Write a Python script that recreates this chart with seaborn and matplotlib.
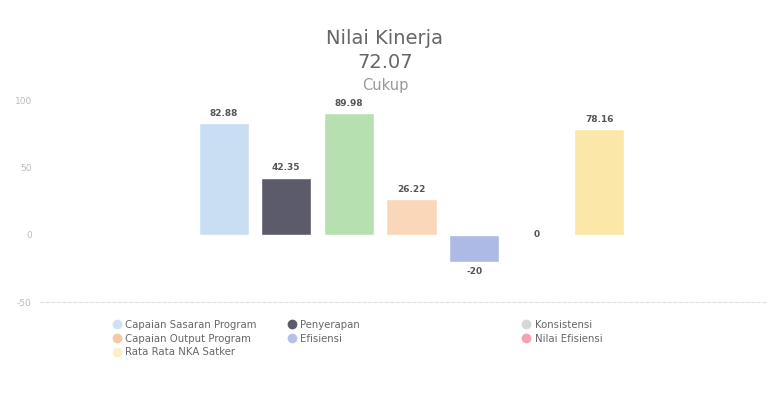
import matplotlib.pyplot as plt
import seaborn as sns
import pandas as pd
from matplotlib.lines import Line2D

# data
labels = ['Capaian Sasaran Program', 'Penyerapan', 'Konsistensi',
          'Capaian Output Program', 'Efisiensi', 'Nilai Efisiensi',
          'Rata Rata NKA Satker']
values = [82.88, 42.35, 89.98, 26.22, -20, 0, 78.16]
colors = ['#c9def3', '#5b5b6b', '#b7e0b0', '#fad7b8', '#aebae6', '#f3a9b6', '#fbe8a8']
legend_colors = ['#cfe0f2', '#5b5b6b', '#d6d6d6', '#f6c9a4', '#b8c0ea', '#f2a2b2', '#fcf0c8']
title = 'Nilai Kinerja'
score = '72.07'
grade = 'Cukup'

df = pd.DataFrame({'label': labels, 'value': values})

sns.set_style('white')
plt.rcParams['font.family'] = ['DejaVu Sans']

fig = plt.figure(figsize=(7.7, 4), dpi=100)
ax = fig.add_axes([0.052, 0.245, 0.942, 0.505])

sns.barplot(data=df, x='label', y='value', hue='label', palette=colors,
            legend=False, width=0.8, saturation=1, ax=ax)

ax.set_ylim(-50, 100)
ax.set_xlim(-2.93, 8.65)
ax.set_yticks([-50, 0, 50, 100])
ax.set_yticklabels(['-50', '0', '50', '100'], fontsize=6.5, color='#bbbbbb')
ax.tick_params(axis='y', length=2, color='#dddddd', pad=4)
ax.set_xticks([])
ax.set_xlabel('')
ax.set_ylabel('')
for s in ['top', 'right', 'left']:
    ax.spines[s].set_visible(False)
ax.spines['bottom'].set_color('#e0e0e0')
ax.spines['bottom'].set_linestyle((0, (3, 2)))
ax.spines['bottom'].set_linewidth(0.8)

for i, v in enumerate(values):
    if v < 0:
        ax.text(i, v - 4, f'{v:g}', ha='center', va='top', fontsize=6.5,
                color='#555555', fontweight='bold')
    elif v == 0:
        ax.text(i, 0, '0', ha='center', va='center', fontsize=6.5,
                color='#555555', fontweight='bold')
    else:
        ax.text(i, v + 4, f'{v:g}', ha='center', va='bottom', fontsize=6.5,
                color='#555555', fontweight='bold')

fig.text(0.5, 0.905, title, ha='center', va='center', fontsize=14, color='#666666')
fig.text(0.5, 0.845, score, ha='center', va='center', fontsize=14, color='#666666')
fig.text(0.5, 0.787, grade, ha='center', va='center', fontsize=10.5, color='#999999')

# legend: three columns, laid out row by row
columns = [[0, 3, 6], [1, 4], [2, 5]]
col_x = [0.145, 0.372, 0.677]
for idx, x in zip(columns, col_x):
    hs = [Line2D([], [], marker='o', linestyle='', markersize=6,
                 markerfacecolor=legend_colors[i], markeredgecolor=legend_colors[i])
          for i in idx]
    leg = fig.legend(hs, [labels[i] for i in idx], loc='upper left',
                     bbox_to_anchor=(x, 0.2), frameon=False, fontsize=7.3,
                     handletextpad=0.35, labelspacing=0.35, handlelength=1.0,
                     borderaxespad=0, borderpad=0)
    for t in leg.get_texts():
        t.set_color('#666666')

fig.savefig('out.png', dpi=100)
